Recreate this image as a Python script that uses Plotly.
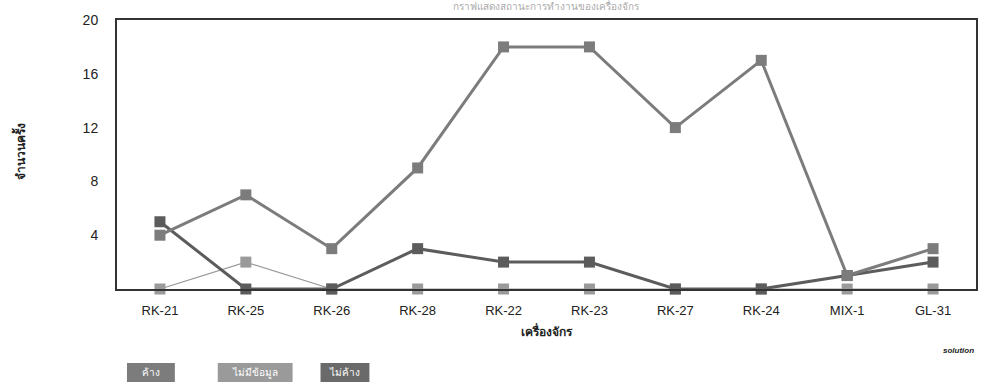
import plotly.graph_objects as go

machines = ["RK-21", "RK-25", "RK-26", "RK-28", "RK-22", "RK-23", "RK-27", "RK-24", "MIX-1", "GL-31"]
pending = [4, 7, 3, 9, 18, 18, 12, 17, 1, 3]
not_pending = [5, 0, 0, 3, 2, 2, 0, 0, 1, 2]
no_data = [0, 2, 0, 0, 0, 0, 0, 0, 0, 0]
y_ticks = [4, 8, 12, 16, 20]

series = [
    ("ไม่มีข้อมูล", no_data, "#9a9a9a", 1.2),
    ("ไม่ค้าง", not_pending, "#5c5c5c", 3),
    ("ค้าง", pending, "#7c7c7c", 3),
]

fig = go.Figure()
for name, vals, color, width in series:
    fig.add_trace(go.Scatter(
        x=machines, y=vals, name=name, mode="lines+markers",
        line=dict(color=color, width=width),
        marker=dict(symbol="square", size=11, color=color),
        cliponaxis=False,
    ))

PL, PT, PW, PH = 117, 20, 861, 269  # plot area in pixels


def px(x):
    return (x - PL) / PW


def py(y):
    return (PT + PH - y) / PH


fig.update_layout(
    width=981, height=383,
    margin=dict(l=PL, r=981 - PL - PW, t=PT, b=383 - PT - PH),
    paper_bgcolor="white", plot_bgcolor="white",
    showlegend=False,
    font=dict(family="Liberation Sans, Arial, sans-serif", size=12, color="#222"),
)
fig.update_xaxes(
    type="category", range=[-0.5, 9.5], showgrid=False,
    showline=True, linecolor="#333", linewidth=2, mirror=True,
    ticks="", tickfont=dict(size=13, color="#222"), ticklabelstandoff=8,
)
fig.update_yaxes(
    range=[0, 20], tickvals=y_ticks, showgrid=False, zeroline=False,
    showline=True, linecolor="#333", linewidth=2, mirror=True,
    ticks="", tickfont=dict(size=14, color="#222"), ticklabelstandoff=14,
)


def label(text, x, y, size, color="#222", angle=0, family="Noto Sans, sans-serif", xanchor="center"):
    fig.add_annotation(text=text, xref="paper", yref="paper", x=px(x), y=py(y),
                       xanchor=xanchor, yanchor="middle", textangle=angle,
                       showarrow=False, font=dict(size=size, color=color, family=family))


label("<b>เครื่องจักร</b>", 548, 331, 12)
label("<b>จำนวนครั้ง</b>", 20, 152, 12, angle=-90)
label("กราฟแสดงสถานะการทำงานของเครื่องจักร", 548, 6, 10, color="#aaa")
label("<b><i>solution</i></b>", 978, 350, 8, family="Liberation Sans, Arial, sans-serif", xanchor="right")

# legend buttons
legend_items = [("ค้าง", "#7c7c7c", 127, 175), ("ไม่มีข้อมูล", "#9a9a9a", 218, 293), ("ไม่ค้าง", "#6a6a6a", 321, 370)]
for text, color, x0, x1 in legend_items:
    fig.add_shape(type="rect", xref="paper", yref="paper",
                  x0=px(x0), x1=px(x1), y0=py(382), y1=py(363),
                  fillcolor=color, line=dict(width=0))
    label(text, (x0 + x1) / 2, 372, 10, color="white")

fig.write_html("out.html")
